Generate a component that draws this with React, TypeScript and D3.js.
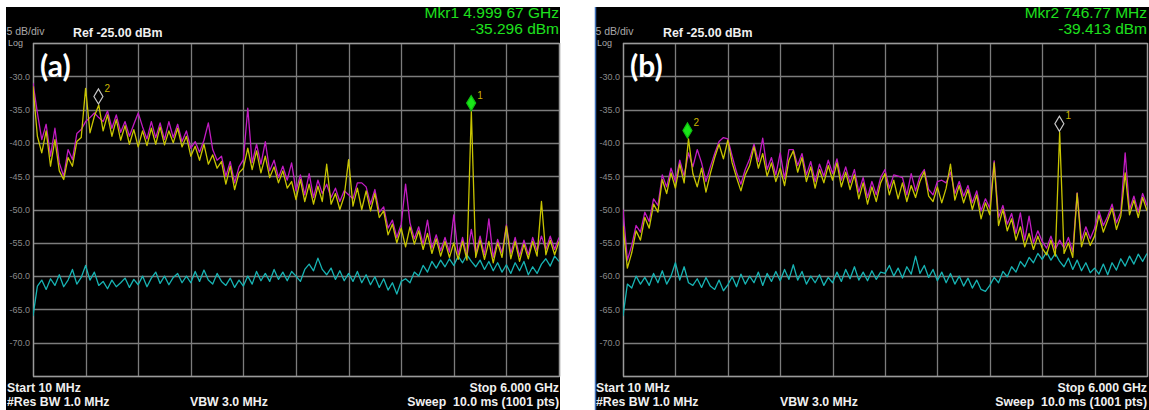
import React from "react";
import * as d3 from "d3";

// sweep settings shown on the analyzer
const START_MHZ = 10;
const STOP_MHZ = 6000;
const REF_DBM = -25;
const DB_PER_DIV = 5;
const DIVS = 10;
const Y_TICKS = [-30, -35, -40, -45, -50, -55, -60, -65, -70];

// (a) traces, 121 sweep points
const yellowA = [
  -31.5, -39, -41.5, -38.2, -43.5, -39.5, -44.2, -45.5, -42.2, -43.5, -39.8, -39.2,
  -31.8, -38.5, -36, -34.3, -38.2, -35.8, -39, -36.5, -39.6, -37.4, -40.2, -38,
  -40.6, -38.2, -40.4, -37.8, -40.2, -37.6, -40.3, -38.2, -40, -37.8, -40.6, -39,
  -42, -40.5, -42.6, -40.2, -43.2, -41.8, -43.8, -42.8, -46.2, -43.5, -47, -44.5,
  -43.8, -40.8, -44, -41.2, -44.5, -42, -45.2, -43.6, -46, -44.2, -46.8, -45.8,
  -48.5, -45.5, -48.8, -46.2, -49.2, -46.5, -48.8, -43.2, -49.2, -47.6, -50, -48,
  -42.5, -49.5, -46.8, -50, -47.2, -50.2, -47.6, -51.2, -50.2, -53.8, -52.2, -55,
  -52.8, -55.6, -52.6, -55.2, -53.2, -56, -53.6, -56.6, -54.4, -57, -54.8, -57.2,
  -55, -57.5, -54.8, -57.6, -35.3, -57.2, -54.6, -57.5, -54.8, -58, -55, -57.2,
  -52.5, -57.4, -54.8, -57.8, -55.2, -57.4, -54.8, -57, -48.8, -56.8, -54.6, -56.8, -54.8,
];
const magentaA = [
  -31, -35.5, -39.5, -37.2, -42, -37.8, -43, -45, -41, -42.5, -38.6, -38,
  -36.8, -36.2, -35.5, -36.2, -36.8, -35.2, -37.8, -35.8, -38.4, -36.8, -39, -37.2,
  -35.5, -37.6, -39.4, -36.8, -39.2, -37, -39.5, -36.8, -39.2, -37.2, -39.8, -38.2,
  -40.8, -39.8, -41.4, -39.6, -37, -41, -42.6, -42, -45, -42.8, -46, -43.6,
  -42.5, -34.8, -43, -40.2, -43.2, -39.8, -44.2, -42.6, -45.2, -43.5, -45.6, -43,
  -47.2, -44.8, -47.8, -44.6, -48.2, -45.6, -47.6, -46.2, -48.2, -46.8, -48.8, -47.2,
  -47.8, -48.4, -46, -46, -46.6, -49.2, -47, -50.4, -49.6, -52.8, -51.6, -54.2,
  -52.2, -46.2, -52, -54.4, -52.6, -55.2, -51.6, -55.8, -53.8, -56.2, -54.2, -56.4,
  -50.8, -56.8, -54.2, -57, -53, -56.6, -54, -56.8, -51.4, -57.2, -54.5, -56.5,
  -52.3, -56.6, -54.2, -57, -54.6, -56.8, -54.2, -56.2, -54, -56, -54, -56, -54.2,
];
const cyanA = [
  -66, -61.5, -60.6, -62, -60.4, -61.4, -59.8, -61.6, -60.6, -59, -61.2, -60.2,
  -58.4, -60.6, -59.4, -61.4, -60.8, -61.9, -60.6, -61.6, -61, -60.3, -61.7, -60.5,
  -61.3, -60, -61.6, -60.3, -59.4, -61.1, -60, -61.3, -60.2, -59.6, -61, -60,
  -61, -59.3, -60.8, -59.1, -60.6, -61.2, -59.6, -60.8, -61.4, -60.3, -61.7, -60.6,
  -61.5, -60, -61.2, -59.3, -60.7, -59.6, -60.8, -59, -60.5, -59.4, -60.7, -59.3,
  -60, -60.8, -59, -58.2, -59.2, -57.3, -59, -59.8, -58.8, -60.5, -59.2, -60.7,
  -59.6, -60.8, -59.3, -61, -59.8, -61.3, -60.1, -61.7, -60.4, -62.1, -61, -62.7,
  -60.8, -60.4, -61, -59.4, -60, -58.4, -59.4, -57.8, -58.8, -57.6, -58.6, -57.4,
  -58.4, -57, -58, -56.8, -57.8, -58.6, -57.6, -59, -57.8, -59.2, -58, -59.4,
  -58.3, -59.6, -58, -59.2, -57.8, -59.8, -58.6, -59.6, -58.2, -57.4, -58.5, -57, -57.8,
];

// (b) traces
const yellowB = [
  -52.5, -58.8, -56.5, -53.2, -54.6, -51.2, -52.8, -49.2, -50.4, -45.5, -47.6, -44.5,
  -46.8, -43.2, -46, -39.4, -44.6, -46.6, -43.8, -47.4, -44.6, -42.2, -40.2, -42.4,
  -39.6, -43, -45.2, -47.2, -44.8, -43.4, -40.6, -43.8, -41.6, -45, -43, -45.8,
  -43.8, -46.4, -42.6, -41.2, -44.4, -42.2, -45.8, -43.6, -46.8, -44, -46, -43.4,
  -45.6, -43, -46.6, -44.4, -47, -44.8, -48.4, -46, -49.2, -46.6, -48.8, -46,
  -44.6, -47.8, -45.6, -48.4, -46, -48.8, -46.4, -48.2, -45.8, -44.3, -48, -48.8,
  -46.6, -49, -46.8, -43.2, -48.6, -46.4, -49, -47, -50, -47.8, -51.4, -49,
  -50.8, -43, -52.4, -50, -53.2, -51.4, -54.6, -52.6, -55.6, -53.6, -56, -54,
  -55.8, -56.8, -54.6, -57, -38.4, -56.6, -55, -57.2, -47.6, -55.6, -53.4, -55.4,
  -54, -50.8, -53.4, -51.6, -49.8, -53, -51, -44.5, -50.8, -48.6, -51.2, -48.2, -50.2,
];
const magentaB = [
  -50, -57.6, -55.4, -52.4, -53.4, -50.4, -51.8, -48.4, -49.4, -44.8, -46.6, -43.8,
  -45.8, -42.6, -45, -41.5, -43.6, -41, -43, -45.8, -43.6, -41.6, -39.8, -39.2,
  -39.4, -42, -44.4, -46.2, -44, -42.4, -40.2, -42.8, -39.3, -44, -42.2, -44.8,
  -41.5, -45.4, -41, -41, -43.4, -41.6, -44.8, -42.8, -45.8, -43.2, -45, -42.6,
  -44.6, -42.4, -45.6, -43.6, -46, -44, -47.4, -45.2, -48.2, -45.8, -47.8, -45.2,
  -44, -46.8, -44.8, -45, -45.2, -47.8, -44.6, -47.2, -45, -44, -47, -47.8,
  -45.8, -45.6, -46, -44.4, -47.6, -45.8, -48, -46.4, -49, -47.2, -50.2, -48.4,
  -49.8, -42.7, -51.2, -49.4, -52.2, -50.6, -53.6, -50.5, -54.6, -51, -55, -53.2,
  -54.8, -55.8, -54, -56, -54.6, -55.8, -54.2, -56.4, -47.5, -54.6, -52.6, -54.4,
  -52.8, -50.2, -52.4, -51, -49.2, -52, -50.4, -41.5, -50, -48, -50.4, -47.6, -49.4,
];
const cyanB = [
  -66, -61.2, -61.8, -60, -61.2, -60.2, -61.4, -59.6, -61, -59.2, -61.2, -60,
  -58, -60.6, -58.6, -61, -61.4, -60.4, -61.7, -60.2, -61.5, -62, -60.6, -62.2,
  -61.3, -60.1, -61.6, -59.7, -61.2, -60, -61, -59.4, -61.4, -59.6, -60.8, -59.3,
  -60.7, -59, -60.5, -58.3, -60.6, -59.3, -61.2, -60, -61, -59.8, -61.4, -60.2,
  -61, -59.4, -60.8, -59, -60.4, -58.6, -60.6, -59.4, -60.7, -59.2, -60.5, -59.4,
  -59.6, -58.4, -60, -58.8, -60.3, -58.6, -59.7, -57, -59.6, -58.4, -60.2, -59,
  -60.7, -59.4, -61, -59.6, -61.2, -60, -61.5, -60.3, -61.8, -60.6, -62, -62.3,
  -61.4, -60.2, -61, -59.3, -60.1, -58.6, -59.4, -57.8, -58.6, -57.2, -58, -56.6,
  -57.5, -56.4, -57.6, -56.6, -57.8, -58.6, -57.3, -59, -57.6, -59.2, -58, -59.5,
  -58.8, -59.7, -58.2, -59.8, -58, -59.1, -57.4, -58.5, -57, -58.2, -56.7, -57.8, -56.6,
];

const markersA = [
  { id: 1, freq: 4999.67, dbm: -35.296, active: true },
  { id: 2, freq: 755, dbm: -34.3, active: false },
];
const markersB = [
  { id: 1, freq: 4998.4, dbm: -38.4, active: false },
  { id: 2, freq: 746.77, dbm: -39.413, active: true },
];
const readoutA = ["Mkr1 4.999 67 GHz", "-35.296 dBm"];
const readoutB = ["Mkr2 746.77 MHz", "-39.413 dBm"];

const FONT = "'Liberation Sans', Arial, sans-serif";
const TOP = 7;
const PLOT_TOP = 43;
const PLOT_BOTTOM = 376;

function Panel({ id, boxX, boxW, x0, x1, tag, yellow, magenta, cyan, markers, readout }) {
  const x = d3.scaleLinear().domain([START_MHZ, STOP_MHZ]).range([x0, x1]);
  const y = d3
    .scaleLinear()
    .domain([REF_DBM - DIVS * DB_PER_DIV, REF_DBM])
    .range([PLOT_BOTTOM, PLOT_TOP]);
  const freqAt = (i: number, n: number) => START_MHZ + ((STOP_MHZ - START_MHZ) * i) / (n - 1);
  const path = (vals: number[]) =>
    d3
      .line<number>()
      .x((d, i) => x(freqAt(i, vals.length)))
      .y((d) => y(d))(vals);

  const vLines = d3.range(DIVS + 1).map((k) => START_MHZ + (k * (STOP_MHZ - START_MHZ)) / DIVS);
  const hLines = d3.range(DIVS + 1).map((k) => REF_DBM - k * DB_PER_DIV);

  return (
    <g>
      <rect x={boxX} y={TOP} width={boxW} height={410 - TOP} fill="#000" />
      {id === "b" && <line x1={boxX + 0.5} x2={boxX + 0.5} y1={TOP} y2={410} stroke="#3f6fb8" strokeWidth={1.5} />}

      {/* grid */}
      {vLines.map((f) => (
        <line key={"v" + f} x1={Math.round(x(f)) + 0.5} x2={Math.round(x(f)) + 0.5} y1={PLOT_TOP} y2={PLOT_BOTTOM} stroke="#7c7c7c" strokeWidth={1.3} />
      ))}
      {hLines.map((v) => (
        <line key={"h" + v} x1={x0} x2={x1} y1={Math.round(y(v)) + 0.5} y2={Math.round(y(v)) + 0.5} stroke="#7c7c7c" strokeWidth={1.3} />
      ))}
      <rect x={x0 + 0.5} y={PLOT_TOP + 0.5} width={x1 - x0} height={PLOT_BOTTOM - PLOT_TOP} fill="none" stroke="#9a9a9a" strokeWidth={1.3} />

      {Y_TICKS.map((v) => (
        <text key={"t" + v} x={x0 - 3} y={y(v) + 1} textAnchor="end" dominantBaseline="middle" fill="#8a8a8a" fontSize={9} fontFamily={FONT}>
          {v.toFixed(1)}
        </text>
      ))}

      {/* traces */}
      <clipPath id={"clip" + id}>
        <rect x={x0} y={PLOT_TOP} width={x1 - x0} height={PLOT_BOTTOM - PLOT_TOP} />
      </clipPath>
      <g clipPath={`url(#clip${id})`} fill="none" strokeLinejoin="round">
        <path d={path(magenta)} stroke="#c21cc2" strokeWidth={1.3} />
        <path d={path(cyan)} stroke="#17b3b3" strokeWidth={1.3} />
        <path d={path(yellow)} stroke="#c8c400" strokeWidth={1.3} />
      </g>

      {/* markers */}
      {markers.map((m) => {
        const cx = x(m.freq);
        const tip = y(m.dbm);
        const d = `M${cx},${tip - 1} L${cx + 4.5},${tip - 8.5} L${cx},${tip - 16} L${cx - 4.5},${tip - 8.5} Z`;
        return (
          <g key={m.id}>
            <path d={d} fill={m.active ? "#19e619" : "none"} stroke={m.active ? "#10c010" : "#c8c8c8"} strokeWidth={1.2} />
            <text x={cx + 6} y={tip - 13} fill="#c8b400" fontSize={10} fontFamily={FONT}>
              {m.id}
            </text>
          </g>
        );
      })}

      {/* header */}
      <text x={boxX + 0.5} y={34.5} fill="#a8a8a8" fontSize={10.5} fontFamily={FONT}>5 dB/div</text>
      <text x={boxX + 2} y={46} fill="#a8a8a8" fontSize={9} fontFamily={FONT}>Log</text>
      <text x={x0 + 40} y={37} fill="#f0f0f0" fontSize={12.4} fontWeight="bold" fontFamily={FONT}>Ref -25.00 dBm</text>
      <text x={x1} y={18} textAnchor="end" fill="#1ee01e" fontSize={15.5} fontFamily={FONT}>{readout[0]}</text>
      <text x={x1} y={33.5} textAnchor="end" fill="#1ee01e" fontSize={15.5} fontFamily={FONT}>{readout[1]}</text>
      <text x={x0 + 7} y={77} fill="#ffffff" fontSize={30} fontWeight="bold" fontFamily="Lato, 'Open Sans', sans-serif">{tag}</text>

      {/* footer */}
      <text x={boxX + 1} y={392} fill="#f0f0f0" fontSize={12.3} fontWeight="bold" fontFamily={FONT}>Start 10 MHz</text>
      <text x={boxX + 1} y={406} fill="#f0f0f0" fontSize={12.3} fontWeight="bold" fontFamily={FONT}>#Res BW 1.0 MHz</text>
      <text x={x0 + 157} y={406} fill="#f0f0f0" fontSize={12.3} fontWeight="bold" fontFamily={FONT}>VBW 3.0 MHz</text>
      <text x={x1} y={392} textAnchor="end" fill="#f0f0f0" fontSize={12.3} fontWeight="bold" fontFamily={FONT}>Stop 6.000 GHz</text>
      <text x={x1} y={406} textAnchor="end" fill="#f0f0f0" fontSize={12.3} fontWeight="bold" fontFamily={FONT} style={{ whiteSpace: "pre" }}>Sweep  10.0 ms (1001 pts)</text>
    </g>
  );
}

export default function App() {
  return (
    <div style={{ position: "absolute", left: 0, top: 0, width: 1149, height: 410, background: "#fff" }}>
      <svg width={1149} height={410} style={{ display: "block" }}>
        <Panel id="a" boxX={6} boxW={554} x0={33} x1={559} tag="(a)" yellow={yellowA} magenta={magentaA} cyan={cyanA} markers={markersA} readout={readoutA} />
        <Panel id="b" boxX={595} boxW={554} x0={623} x1={1147} tag="(b)" yellow={yellowB} magenta={magentaB} cyan={cyanB} markers={markersB} readout={readoutB} />
      </svg>
    </div>
  );
}
